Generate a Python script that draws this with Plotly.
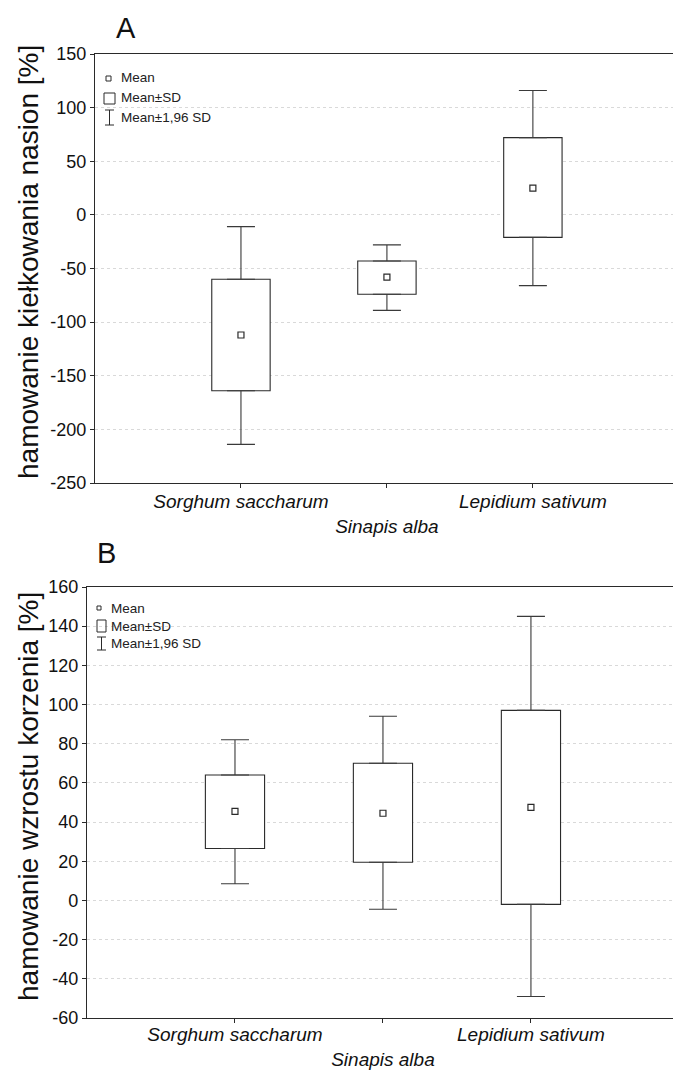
import plotly.graph_objects as go

# ---------------- data ----------------
categories = ["Sorghum saccharum", "Sinapis alba", "Lepidium sativum"]

# Panel A: hamowanie kiełkowania nasion [%]
a_mean = [-112, -58, 25]
a_sd_low = [-164, -74, -21]
a_sd_high = [-60, -43, 72]
a_ci_low = [-214, -89, -66]
a_ci_high = [-11, -28, 116]

# Panel B: hamowanie wzrostu korzenia [%]
b_mean = [45.5, 44.5, 47.5]
b_sd_low = [26.5, 19.5, -2]
b_sd_high = [64, 70, 97]
b_ci_low = [8.5, -4.5, -49]
b_ci_high = [82, 94, 145]

a_ticks = [-250, -200, -150, -100, -50, 0, 50, 100, 150]
b_ticks = [-60, -40, -20, 0, 20, 40, 60, 80, 100, 120, 140, 160]

legend_labels = ["Mean", "Mean±SD", "Mean±1,96 SD"]

# ---------------- layout constants ----------------
W, H = 673, 1070
FONT = "Liberation Sans"
LINE = "#2a2a2a"
xpos = [0, 1, 2]
ticktext = ["<i>%s</i>" % categories[0], "<br><i>%s</i>" % categories[1],
            "<i>%s</i>" % categories[2]]

fig = go.Figure()


def add_panel(xa, ya, mean, sd_lo, sd_hi, ci_lo, ci_hi):
    # boxes (Mean±SD)
    fig.add_trace(go.Bar(
        x=xpos, y=[h - l for h, l in zip(sd_hi, sd_lo)], base=sd_lo, width=0.4,
        marker=dict(color="white", line=dict(color=LINE, width=1.1)),
        xaxis=xa, yaxis=ya, showlegend=False, hoverinfo="skip"))
    # upper whiskers
    fig.add_trace(go.Scatter(
        x=xpos, y=sd_hi, mode="markers",
        marker=dict(size=1, color="rgba(0,0,0,0)"),
        error_y=dict(type="data", symmetric=False,
                     array=[c - s for c, s in zip(ci_hi, sd_hi)],
                     arrayminus=[0, 0, 0], color="#3a3a3a", thickness=1.1, width=14),
        xaxis=xa, yaxis=ya, showlegend=False, hoverinfo="skip"))
    # lower whiskers
    fig.add_trace(go.Scatter(
        x=xpos, y=sd_lo, mode="markers",
        marker=dict(size=1, color="rgba(0,0,0,0)"),
        error_y=dict(type="data", symmetric=False,
                     array=[0, 0, 0],
                     arrayminus=[s - c for c, s in zip(ci_lo, sd_lo)],
                     color="#3a3a3a", thickness=1.1, width=14),
        xaxis=xa, yaxis=ya, showlegend=False, hoverinfo="skip"))
    # means
    fig.add_trace(go.Scatter(
        x=xpos, y=mean, mode="markers",
        marker=dict(symbol="square-open", size=6, color=LINE, line=dict(width=1.2)),
        xaxis=xa, yaxis=ya, showlegend=False, hoverinfo="skip"))


add_panel("x", "y", a_mean, a_sd_low, a_sd_high, a_ci_low, a_ci_high)
add_panel("x2", "y2", b_mean, b_sd_low, b_sd_high, b_ci_low, b_ci_high)


def py(px):
    return 1 - px / H


xaxis_common = dict(
    range=[-1, 2.96], tickmode="array", tickvals=xpos, ticktext=ticktext,
    ticks="outside", ticklen=4, tickcolor=LINE, showline=True, linecolor=LINE,
    linewidth=1.3, mirror=True, showgrid=False, zeroline=False, automargin=False,
    tickfont=dict(family=FONT, size=19, color="#111"),
)
yaxis_common = dict(
    ticks="outside", ticklen=4, tickcolor=LINE, showline=True, linecolor=LINE,
    linewidth=1.3, showgrid=True, gridcolor="#d9d9d9", griddash="dot", gridwidth=1,
    zeroline=False, automargin=False, tickfont=dict(family=FONT, size=18, color="#111"),
    tickmode="array",
)

fig.update_layout(
    width=W, height=H, margin=dict(l=0, r=0, t=0, b=0, autoexpand=False),
    paper_bgcolor="white", plot_bgcolor="white", barmode="overlay",
    showlegend=False,
    xaxis=dict(domain=[95 / W, 1], anchor="y", ticklabelstandoff=-3, **xaxis_common),
    yaxis=dict(domain=[py(483), py(54)], anchor="x", range=[-250, 150],
               tickvals=a_ticks, ticktext=[str(v) for v in a_ticks], **yaxis_common),
    xaxis2=dict(domain=[87 / W, 1], anchor="y2", ticklabelstandoff=-5, **xaxis_common),
    yaxis2=dict(domain=[py(1018), py(587)], anchor="x2", range=[-60, 160],
                tickvals=b_ticks, ticktext=[str(v) for v in b_ticks], **yaxis_common),
)

ann = []
# panel letters
ann.append(dict(text="A", x=126 / W, y=py(28), xref="paper", yref="paper",
                xanchor="center", yanchor="middle",
                showarrow=False, font=dict(family=FONT, size=29, color="#111")))
ann.append(dict(text="B", x=106 / W, y=py(553), xref="paper", yref="paper",
                xanchor="center", yanchor="middle",
                showarrow=False, font=dict(family=FONT, size=29, color="#111")))
# y axis titles
ann.append(dict(text="hamowanie kiełkowania nasion [%]", x=28 / W, y=py(262),
                xref="paper", yref="paper", textangle=-90, showarrow=False,
                xanchor="center", yanchor="middle",
                font=dict(family=FONT, size=28, color="#111")))
ann.append(dict(text="hamowanie wzrostu korzenia [%]", x=28 / W, y=py(797),
                xref="paper", yref="paper", textangle=-90, showarrow=False,
                xanchor="center", yanchor="middle",
                font=dict(family=FONT, size=28, color="#111")))

# legends (text)
for ys, x0 in (([78, 98, 118], 119), ([608, 626, 643], 109)):
    for lab, yy in zip(legend_labels, ys):
        ann.append(dict(text=lab, x=x0 / W, y=py(yy), xref="paper", yref="paper",
                        xanchor="left", yanchor="middle", showarrow=False,
                        font=dict(family=FONT, size=13.5, color="#222")))
fig.update_layout(annotations=ann)

# legend icons (decoration), in pixels relative to top-left of each plot
shapes = []


def icon_shapes(xr, yr, mean_box, sd_box, ibeam):
    out = []
    base = dict(xref=xr, yref=yr, xsizemode="pixel", ysizemode="pixel",
                xanchor=0, yanchor=1)
    x0, x1, y0, y1 = mean_box
    out.append(dict(type="rect", x0=x0, x1=x1, y0=-y0, y1=-y1,
                    line=dict(color=LINE, width=1), **base))
    x0, x1, y0, y1 = sd_box
    out.append(dict(type="rect", x0=x0, x1=x1, y0=-y0, y1=-y1,
                    line=dict(color=LINE, width=1), **base))
    xc, hw, yt, yb = ibeam
    out.append(dict(type="line", x0=xc, x1=xc, y0=-yt, y1=-yb,
                    line=dict(color=LINE, width=1), **base))
    out.append(dict(type="line", x0=xc - hw, x1=xc + hw, y0=-yt, y1=-yt,
                    line=dict(color=LINE, width=1), **base))
    out.append(dict(type="line", x0=xc - hw, x1=xc + hw, y0=-yb, y1=-yb,
                    line=dict(color=LINE, width=1), **base))
    return out


shapes += icon_shapes("x domain", "y domain", (11, 16, 22, 27), (9, 20, 39, 50),
                      (14.5, 4.5, 56, 71))
shapes += icon_shapes("x2 domain", "y2 domain", (10, 14, 19, 23), (10, 19, 33, 45),
                      (14.5, 4.5, 50, 63))
fig.update_layout(shapes=shapes)

fig.write_html(
    "out.html",
    config={"displayModeBar": False},
    post_script="document.body.style.margin='0';document.body.style.overflow='hidden';",
)
